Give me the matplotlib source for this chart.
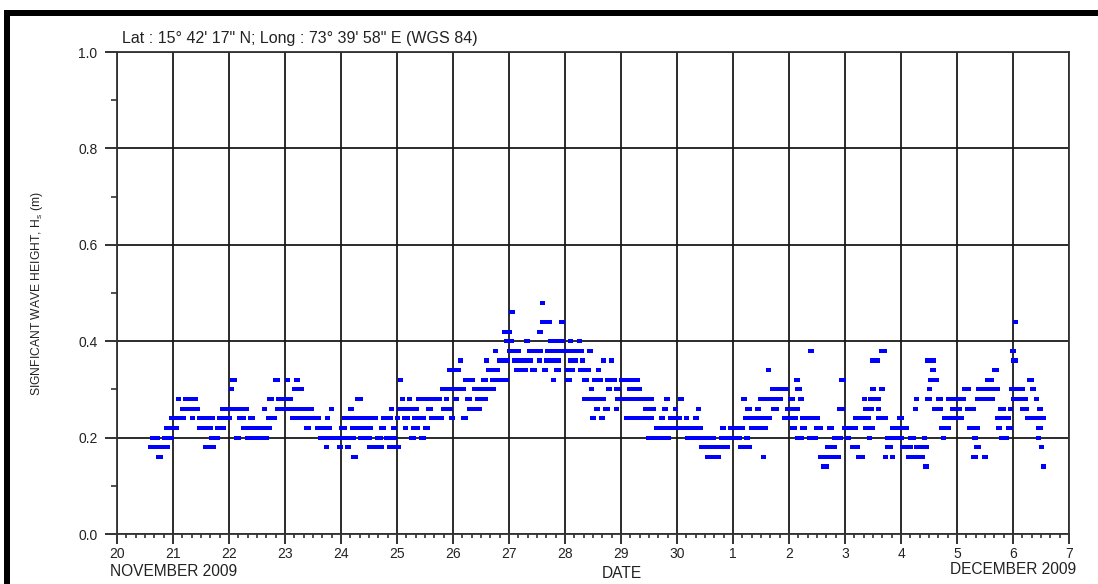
import matplotlib
matplotlib.use("Agg")
import matplotlib.pyplot as plt
from matplotlib.patches import Rectangle
from matplotlib.ticker import MultipleLocator

plt.rcParams['font.family'] = ['Liberation Sans', 'DejaVu Sans']

# Hs readings, grouped by level; each run = (start hour, end hour) counted
# from 20 Nov 2009 00:00, as the consecutive blue marks appear on the chart
runs_048 = [(181.4, 183.6)]
runs_046 = [(168.1, 170.7)]
runs_044 = [(181.4, 186.4), (189.6, 192.1), (384.1, 386.3)]
runs_042 = [(164.9, 169.3), (180.0, 182.7)]
runs_040 = [(165.7, 170.0), (174.6, 176.9), (184.6, 192.1), (193.3, 195.6),
            (197.1, 199.3)]
runs_038 = [(161.0, 163.1), (167.1, 173.1), (175.6, 182.7), (183.6, 200.0),
            (201.4, 203.9), (296.0, 298.9), (326.7, 329.9), (382.6, 385.4)]
runs_036 = [(146.0, 148.4), (157.3, 159.6), (162.7, 168.4), (169.3, 178.4),
            (179.9, 182.1), (182.9, 190.4), (193.1, 197.6), (198.6, 200.7),
            (207.4, 209.6), (210.7, 212.9), (322.9, 326.9), (346.3, 350.9),
            (383.1, 386.3)]
runs_034 = [(141.6, 147.4), (158.1, 164.0), (170.0, 176.0), (177.0, 179.9),
            (182.1, 184.6), (187.4, 190.4), (191.9, 196.4), (197.6, 203.0),
            (205.3, 207.4), (278.1, 280.4), (348.4, 350.9), (374.9, 377.9)]
runs_032 = [(48.6, 51.4), (66.9, 69.7), (71.9, 74.0), (75.7, 78.6),
            (120.3, 122.7), (148.3, 153.4), (155.9, 158.9), (159.7, 167.9),
            (186.0, 188.1), (192.1, 194.9), (199.3, 202.1), (203.6, 208.3),
            (209.0, 214.3), (215.0, 224.0), (290.3, 292.9), (309.3, 312.3),
            (347.7, 352.1), (372.0, 375.7), (389.9, 392.9)]
runs_030 = [(48.0, 50.0), (75.0, 80.0), (138.6, 149.7), (152.0, 162.6),
            (202.1, 204.6), (209.6, 212.0), (212.9, 216.1), (218.7, 224.9),
            (279.7, 287.9), (290.7, 293.7), (322.9, 325.3), (326.7, 329.0),
            (347.0, 349.3), (362.0, 365.9), (368.0, 378.6), (382.4, 389.1),
            (391.4, 393.7)]
runs_028 = [(25.4, 27.3), (28.4, 34.7), (64.3, 67.1), (68.3, 75.4),
            (101.9, 105.4), (121.1, 123.3), (124.3, 126.6), (128.0, 139.1),
            (140.1, 142.4), (144.1, 146.7), (149.1, 152.1), (153.6, 158.9),
            (199.3, 209.7), (213.6, 230.0), (234.6, 236.9), (240.3, 243.0),
            (267.6, 270.0), (274.6, 285.3), (287.6, 290.4), (291.7, 294.3),
            (319.1, 321.4), (321.9, 327.3), (341.7, 343.9), (346.3, 349.3),
            (350.9, 353.9), (355.4, 363.7), (367.7, 376.4), (383.1, 390.6),
            (392.9, 395.1)]
runs_026 = [(26.9, 35.7), (44.0, 56.6), (62.1, 64.3), (67.6, 84.4),
            (90.7, 92.9), (99.0, 101.7), (116.7, 118.9), (120.0, 129.4),
            (132.6, 135.4), (138.9, 144.1), (149.9, 156.6), (204.4, 206.9),
            (208.3, 211.3), (212.9, 215.0), (225.4, 230.9), (233.7, 236.1),
            (238.3, 240.6), (248.1, 250.4), (269.0, 272.3), (273.6, 275.9),
            (280.4, 283.6), (286.4, 292.9), (308.6, 312.1), (319.9, 324.3),
            (325.3, 327.4), (341.0, 343.1), (349.3, 353.9), (356.9, 362.0),
            (363.4, 368.0), (377.7, 380.9), (381.7, 384.1), (386.9, 390.7),
            (394.4, 396.7)]
runs_024 = [(22.3, 29.7), (31.4, 33.4), (34.4, 41.9), (42.7, 49.3),
            (51.6, 55.1), (56.1, 59.0), (63.7, 68.7), (74.0, 87.6),
            (89.3, 91.4), (96.4, 112.0), (113.0, 118.1), (119.1, 121.1),
            (122.0, 125.7), (126.6, 132.6), (133.9, 140.0), (142.4, 144.7),
            (147.6, 150.6), (202.9, 205.3), (206.6, 209.0), (217.1, 230.1),
            (232.4, 234.7), (236.0, 242.0), (242.9, 245.1), (246.7, 249.6),
            (268.3, 280.6), (285.0, 292.0), (292.9, 301.1), (315.4, 323.0),
            (325.1, 330.6), (334.1, 337.3), (353.7, 362.9), (376.3, 383.1),
            (389.1, 398.3)]
runs_022 = [(20.0, 26.6), (34.3, 41.0), (41.9, 46.9), (53.0, 66.6),
            (80.1, 83.3), (84.7, 92.1), (95.3, 98.4), (99.7, 109.9),
            (112.1, 115.1), (117.4, 120.1), (122.7, 124.9), (125.9, 130.0),
            (131.0, 134.0), (230.0, 251.1), (258.6, 261.0), (261.7, 269.3),
            (270.7, 279.0), (288.6, 291.3), (292.9, 295.7), (298.9, 302.7),
            (304.3, 307.1), (310.9, 317.7), (319.9, 324.9), (331.1, 339.4),
            (352.1, 357.6), (364.3, 369.7), (376.9, 379.4), (380.9, 384.0),
            (393.7, 396.7)]
runs_020 = [(14.0, 18.3), (19.4, 24.3), (39.6, 44.0), (50.0, 53.0),
            (54.7, 65.1), (86.1, 102.4), (103.1, 109.1), (110.7, 113.9),
            (114.6, 119.9), (125.0, 128.0), (129.4, 132.6), (226.9, 237.6),
            (243.6, 256.6), (257.9, 267.7), (268.6, 271.4), (290.7, 294.3),
            (295.9, 300.4), (306.4, 311.0), (312.0, 314.7), (321.4, 323.7),
            (329.0, 337.3), (338.9, 342.6), (344.9, 347.0), (353.0, 355.3),
            (366.6, 368.9), (377.9, 382.4), (393.7, 396.0)]
runs_018 = [(13.1, 22.9), (36.7, 42.4), (88.6, 90.7), (94.4, 97.0),
            (97.6, 100.1), (107.0, 114.4), (115.9, 121.9), (249.6, 262.6),
            (266.1, 272.1), (303.4, 308.7), (314.0, 318.4), (329.0, 332.7),
            (335.7, 341.0), (341.7, 347.9), (367.4, 370.4), (395.3, 397.4)]
runs_016 = [(16.9, 19.9), (100.4, 103.1), (251.9, 258.7), (276.0, 278.1),
            (300.3, 310.1), (316.9, 320.7), (328.1, 330.6), (331.1, 333.6),
            (338.0, 346.3), (365.9, 368.9), (370.9, 373.3)]
runs_014 = [(301.9, 305.0), (345.4, 347.9), (396.0, 398.3)]

hs_levels = [0.48, 0.46, 0.44, 0.42, 0.40, 0.38, 0.36, 0.34, 0.32, 0.30,
             0.28, 0.26, 0.24, 0.22, 0.20, 0.18, 0.16, 0.14]
level_runs = [runs_048, runs_046, runs_044, runs_042, runs_040, runs_038,
              runs_036, runs_034, runs_032, runs_030, runs_028, runs_026,
              runs_024, runs_022, runs_020, runs_018, runs_016, runs_014]

day_labels = ['20', '21', '22', '23', '24', '25', '26', '27', '28', '29', '30',
              '1', '2', '3', '4', '5', '6', '7']

W, H = 1098, 584
fig = plt.figure(figsize=(W / 100, H / 100), dpi=100)
ax = fig.add_axes([117 / W, 1 - 534 / H, 952 / W, 482 / H])

bar_h = 0.0085
for hs, runs in zip(hs_levels, level_runs):
    spans = [(a / 24, (b - a) / 24) for a, b in runs]
    ax.broken_barh(spans, (hs - bar_h / 2, bar_h), facecolors='#0000ff',
                   edgecolor='none', zorder=3)

ax.set_xlim(0, 17)
ax.set_ylim(0, 1.0)
ax.set_xticks(range(18))
ax.set_xticklabels(day_labels)
ax.xaxis.set_minor_locator(MultipleLocator(4 / 24))
ax.set_yticks([0.0, 0.2, 0.4, 0.6, 0.8, 1.0])
ax.set_yticklabels(['0.0', '0.2', '0.4', '0.6', '0.8', '1.0'])
ax.yaxis.set_minor_locator(MultipleLocator(0.1))

ax.grid(True, which='major', color='#1a1a1a', lw=1.3)
ax.set_axisbelow(True)
for s in ax.spines.values():
    s.set_color('#333333')
    s.set_linewidth(1.3)

ax.tick_params(axis='x', which='major', direction='out', length=7.5, width=1.3,
               color='#222222', labelsize=10, pad=1.5, labelcolor='#222222')
ax.tick_params(axis='x', which='minor', direction='out', length=3, width=1.1,
               color='#222222')
ax.tick_params(axis='y', which='major', direction='out', length=8.5, width=1.3,
               color='#222222', labelsize=10, pad=5.5, labelcolor='#222222')
ax.tick_params(axis='y', which='minor', direction='out', length=4, width=1.1,
               color='#222222')

fig.text(122 / W, 1 - 38 / H,
         'Lat : 15\u00b0 42\' 17" N; Long : 73\u00b0 39\' 58" E (WGS 84)',
         ha='left', va='center', fontsize=11.5, color='#222222')
fig.text(37 / W, 1 - 294 / H, 'SIGNFICANT WAVE HEIGHT, H$_\\mathregular{s}$ (m)',
         rotation=90, ha='center', va='center', fontsize=8.7, color='#222222')
fig.text(110 / W, 1 - 571 / H, 'NOVEMBER 2009', ha='left', va='center',
         fontsize=11.2, color='#222222')
fig.text(622 / W, 1 - 573 / H, 'DATE', ha='center', va='center',
         fontsize=11.2, color='#222222')
fig.text(1076 / W, 1 - 570 / H, 'DECEMBER 2009', ha='right', va='center',
         fontsize=11.2, color='#222222')

# thick black frame on the top and left edges of the page
fig.patches.append(Rectangle((4 / W, 1 - 16 / H), 1, 6 / H, transform=fig.transFigure,
                             facecolor='black', edgecolor='none'))
fig.patches.append(Rectangle((4 / W, 0), 6 / W, 1 - 10 / H, transform=fig.transFigure,
                             facecolor='black', edgecolor='none'))

fig.savefig('out.png', dpi=100, facecolor='white')
